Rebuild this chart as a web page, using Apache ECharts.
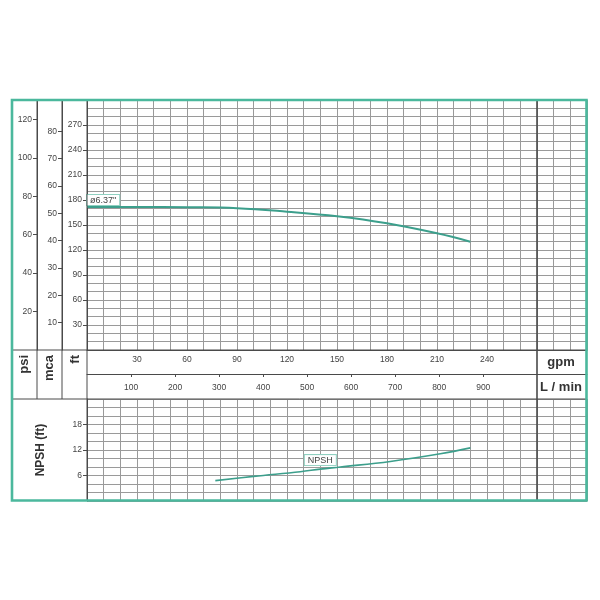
<!DOCTYPE html>
<html>
<head>
<meta charset="utf-8">
<script src="https://cdn.jsdelivr.net/npm/echarts@6/dist/echarts.min.js"></script>
<style>html,body{margin:0;padding:0;background:#fff;}#c{width:600px;height:600px;}</style>
</head>
<body>
<div id="c"></div>
<script>
// ---- data ----
const headGpm = [0, 30, 60, 90, 120, 150, 180, 210, 230];
const headFt  = [171.6, 171.6, 171.3, 170.2, 166.0, 160.5, 152.0, 140.0, 130.0];
const headLabel = 'ø6.37"';

const npshGpm = [77, 100, 128, 140, 152, 182, 212, 230];
const npshFt  = [4.8, 5.8, 6.9, 7.5, 8.0, 9.3, 11.1, 12.5];
const npshLabel = 'NPSH';

const psiTicks  = [20, 40, 60, 80, 100, 120];
const mcaTicks  = [10, 20, 30, 40, 50, 60, 70, 80];
const ftTicks   = [30, 60, 90, 120, 150, 180, 210, 240, 270];
const gpmTicks  = [30, 60, 90, 120, 150, 180, 210, 240];
const lpmTicks  = [100, 200, 300, 400, 500, 600, 700, 800, 900];
const npshTicks = [6, 12, 18];

// unit conversions
const FT_PER_PSI = 2.30666;
const FT_PER_M = 3.28084;
const LPM_PER_GPM = 3.78541;
const FT_MAX = 300, GPM_MAX = 300, NPSH_MAX = 24;

const TEAL = '#3c9f8c';
const FRAME = '#4bb89d';
const GRIDC = '#9a9a9a';
const DARK = '#4a4a4a';
const FONT = '"Liberation Sans", Arial, sans-serif';
const lblStyle = {color: '#444', fontSize: 8.5, fontFamily: FONT};

function mkSeries(x, y) { return x.map((v, i) => [v, y[i]]); }

const boxLabel = {fontSize: 9, fontFamily: FONT, color: '#444', backgroundColor: '#fff',
  borderColor: '#8fd0c0', borderWidth: 1, padding: [1, 3, 0, 3]};

const headData = mkSeries(headGpm, headFt).map((p, i) => i === 0 ? {
  value: p, symbol: 'circle', symbolSize: 0.01,
  label: Object.assign({show: true, formatter: headLabel, position: 'top', align: 'left', distance: 2}, boxLabel)
} : {value: p, symbol: 'none'});

const npshData = mkSeries(npshGpm, npshFt).map((p, i) => i === 3 ? {
  value: p, symbol: 'circle', symbolSize: 0.01,
  label: Object.assign({show: true, formatter: npshLabel, position: 'top', distance: 4}, boxLabel)
} : {value: p, symbol: 'none'});

const chart = echarts.init(document.getElementById('c'), null, {renderer: 'canvas'});

const splitL = {show: true, lineStyle: {color: GRIDC, width: 1}};
const axLine = {show: true, lineStyle: {color: DARK, width: 1}};
const off = {show: false};

function line(x1, y1, x2, y2, w, c) {
  return {type: 'line', z: 100, silent: true,
    shape: {x1, y1, x2, y2}, style: {stroke: c || DARK, lineWidth: w || 1}};
}
function vtext(x, y, t) {
  return {type: 'text', z: 100, x, y, rotation: Math.PI / 2, silent: true,
    style: {text: t, align: 'right', verticalAlign: 'middle',
      font: 'bold 13px ' + FONT, fill: '#333'}};
}
function htext(x, y, t) {
  return {type: 'text', z: 100, x, y, silent: true,
    style: {text: t, align: 'center', verticalAlign: 'middle',
      font: 'bold 13px ' + FONT, fill: '#333'}};
}
function labelAxis(extra) {
  return Object.assign({type: 'value', position: 'left', axisLine: axLine, splitLine: off}, extra);
}
function tickSet(vals, len) {
  return {show: true, customValues: vals, length: len || 4, lineStyle: {color: DARK}};
}

chart.setOption({
  animation: false,
  backgroundColor: '#fff',
  grid: [
    {left: 87, top: 100, width: 500, height: 250},   // 0 head (ft / gpm)
    {left: 87, top: 399, width: 500, height: 102},   // 1 NPSH
    {left: 87, top: 100, width: 500, height: 274},   // 2 L/min scale
    {left: 37, top: 100, width: 550, height: 250},   // 3 psi scale
    {left: 62, top: 100, width: 525, height: 250}    // 4 mca scale
  ],
  xAxis: [
    {type: 'value', gridIndex: 0, min: 0, max: GPM_MAX, interval: 10, position: 'bottom',
      axisLine: axLine, axisTick: off, splitLine: splitL,
      axisLabel: Object.assign({margin: 5,
        formatter: v => gpmTicks.indexOf(v) >= 0 ? String(v) : ''}, lblStyle)},
    {type: 'value', gridIndex: 1, min: 0, max: GPM_MAX, interval: 10, position: 'bottom',
      axisLine: off, axisTick: off, axisLabel: off, splitLine: splitL},
    {type: 'value', gridIndex: 2, min: 0, max: GPM_MAX * LPM_PER_GPM, position: 'bottom',
      axisLine: axLine, splitLine: off, axisTick: tickSet(lpmTicks, 3),
      axisLabel: Object.assign({customValues: lpmTicks, margin: 9}, lblStyle)},
    {type: 'value', gridIndex: 3, show: false, min: 0, max: 1},
    {type: 'value', gridIndex: 4, show: false, min: 0, max: 1}
  ],
  yAxis: [
    // 0: ft grid lines
    {type: 'value', gridIndex: 0, min: 0, max: FT_MAX, interval: 10, position: 'left',
      axisLine: off, axisTick: off, axisLabel: off, splitLine: splitL},
    // 1: ft labels
    labelAxis({gridIndex: 0, min: 0, max: FT_MAX, axisTick: tickSet(ftTicks),
      axisLabel: Object.assign({customValues: ftTicks, margin: 5}, lblStyle)}),
    // 2: NPSH grid lines
    {type: 'value', gridIndex: 1, min: 0, max: NPSH_MAX, interval: 2, position: 'left',
      axisLine: off, axisTick: off, axisLabel: off, splitLine: splitL},
    // 3: NPSH labels
    labelAxis({gridIndex: 1, min: 0, max: NPSH_MAX, axisTick: tickSet(npshTicks),
      axisLabel: Object.assign({customValues: npshTicks, margin: 5}, lblStyle),
      name: 'NPSH (ft)', nameLocation: 'middle', nameGap: 40, nameRotate: 90,
      nameTextStyle: {fontSize: 12, fontWeight: 'bold', fontFamily: FONT, color: '#333'}}),
    // 4: hidden y for L/min grid
    {type: 'value', gridIndex: 2, show: false, min: 0, max: 1},
    // 5: psi
    labelAxis({gridIndex: 3, min: 0, max: FT_MAX / FT_PER_PSI, axisTick: tickSet(psiTicks),
      axisLabel: Object.assign({customValues: psiTicks, margin: 5}, lblStyle)}),
    // 6: mca
    labelAxis({gridIndex: 4, min: 0, max: FT_MAX / FT_PER_M, axisTick: tickSet(mcaTicks),
      axisLabel: Object.assign({customValues: mcaTicks, margin: 5}, lblStyle)})
  ],
  series: [
    {type: 'line', name: 'Head', xAxisIndex: 0, yAxisIndex: 0, data: headData,
      smooth: 0.4, clip: false, showSymbol: true,
      lineStyle: {color: TEAL, width: 2}, itemStyle: {color: TEAL}, z: 10},
    {type: 'line', name: 'NPSH', xAxisIndex: 1, yAxisIndex: 2, data: npshData,
      smooth: 0.4, clip: false, showSymbol: true,
      lineStyle: {color: TEAL, width: 1.6}, itemStyle: {color: TEAL}, z: 10}
  ],
  graphic: [
    line(12, 350, 587, 350),
    line(12, 399, 587, 399),
    line(37, 100, 37, 399),
    line(62, 100, 62, 399),
    line(87, 100, 87, 501),
    line(537, 100, 537, 501, 1.6),
    vtext(24.5, 355, 'psi'),
    vtext(49.5, 355, 'mca'),
    vtext(75, 355, 'ft'),
    htext(561, 362, 'gpm'),
    htext(561, 387, 'L / min'),
    {type: 'rect', z: 110, silent: true, shape: {x: 12, y: 100, width: 574.5, height: 400.5},
      style: {fill: 'none', stroke: FRAME, lineWidth: 2.6}}
  ]
});
</script>
</body>
</html>
